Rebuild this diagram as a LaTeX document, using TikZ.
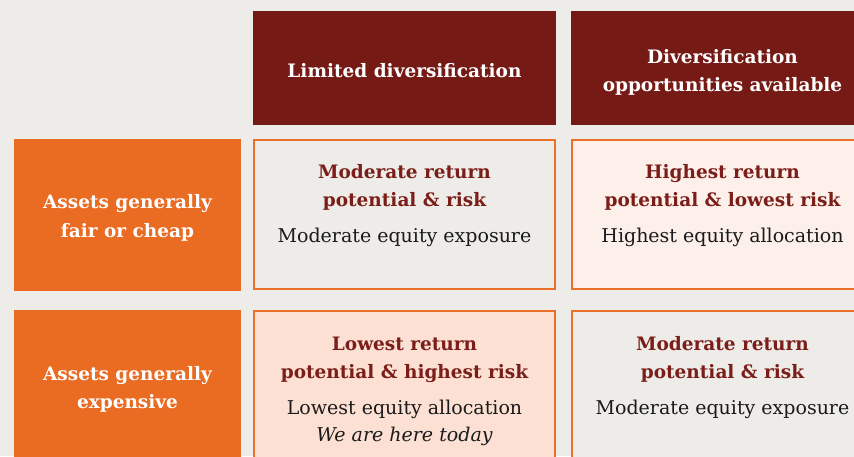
\documentclass[tikz,border=0pt]{standalone}
\usepackage{fontspec}
\setmainfont{DejaVu Serif}
\definecolor{bgc}{HTML}{EEECE8}
\definecolor{hdrc}{HTML}{761A16}
\definecolor{orc}{HTML}{EA6B22}
\definecolor{bordc}{HTML}{EC6F2A}
\definecolor{cellgray}{HTML}{EEECE8}
\definecolor{celllight}{HTML}{FDEFE9}
\definecolor{cellpeach}{HTML}{FBE0D3}
\definecolor{titlec}{HTML}{7B1D18}
\definecolor{bodyc}{HTML}{1A1A1A}
\tikzset{
  hdrbox/.style={fill=hdrc, inner sep=0pt, outer sep=0pt, minimum width=303pt, minimum height=114pt},
  rowbox/.style={fill=orc, inner sep=0pt, outer sep=0pt, minimum width=227pt, minimum height=152pt},
  cellbox/.style={draw=bordc, line width=2pt, inner sep=0pt, outer sep=0pt, minimum width=301pt, minimum height=149pt},
  hdrtxt/.style={anchor=base, inner sep=0pt, text=white, font=\fontsize{18.5}{22}\selectfont\bfseries},
  titletxt/.style={anchor=base, inner sep=0pt, text=titlec, font=\fontsize{18.5}{22}\selectfont\bfseries},
  bodytxt/.style={anchor=base, inner sep=0pt, text=bodyc, font=\fontsize{19}{23}\selectfont},
  itxt/.style={anchor=base, inner sep=0pt, text=bodyc, font=\fontsize{19}{23}\selectfont\itshape}
}
\begin{document}
\begin{tikzpicture}[x=1pt,y=-1pt]
\useasboundingbox (0,0) rectangle (854,456);
\fill[bgc] (0,0) rectangle (854,456);
\begin{scope}
\clip (0,0) rectangle (854,456);
% headers
\node[hdrbox] (h1) at (404.5,68) {};
\node[hdrbox] (h2) at (722.5,68) {};
% row labels
\node[rowbox] (r1) at (127.5,215) {};
\node[rowbox] (r2) at (127.5,386) {};
% cells
\node[cellbox, fill=cellgray]  (c11) at (404.5,214.5) {};
\node[cellbox, fill=celllight] (c12) at (722.5,214.5) {};
\node[cellbox, fill=cellpeach] (c21) at (404.5,385.5) {};
\node[cellbox, fill=cellgray]  (c22) at (722.5,385.5) {};
% header texts
\node[hdrtxt] (h1a) at (404.5,77) {Limited diversification};
\node[hdrtxt] (h2a) at (722.5,63) {Diversification};
\node[hdrtxt] (h2b) at (722.5,91) {opportunities available};
% row label texts
\node[hdrtxt] (r1a) at (127.5,208) {Assets generally};
\node[hdrtxt] (r1b) at (127.5,237) {fair or cheap};
\node[hdrtxt] (r2a) at (127.5,380) {Assets generally};
\node[hdrtxt] (r2b) at (127.5,408) {expensive};
% cell 11
\node[titletxt] (t11a) at (404.5,178) {Moderate return};
\node[titletxt] (t11b) at (404.5,206) {potential \& risk};
\node[bodytxt]  (b11)  at (404.5,242) {Moderate equity exposure};
% cell 12
\node[titletxt] (t12a) at (722.5,178) {Highest return};
\node[titletxt] (t12b) at (722.5,206) {potential \& lowest risk};
\node[bodytxt]  (b12)  at (722.5,242) {Highest equity allocation};
% cell 21
\node[titletxt] (t21a) at (404.5,350) {Lowest return};
\node[titletxt] (t21b) at (404.5,378) {potential \& highest risk};
\node[bodytxt]  (b21)  at (404.5,414) {Lowest equity allocation};
\node[itxt]     (i21)  at (404.5,441) {We are here today};
% cell 22
\node[titletxt] (t22a) at (722.5,350) {Moderate return};
\node[titletxt] (t22b) at (722.5,378) {potential \& risk};
\node[bodytxt]  (b22)  at (722.5,414) {Moderate equity exposure};
\end{scope}
\end{tikzpicture}
\end{document}
